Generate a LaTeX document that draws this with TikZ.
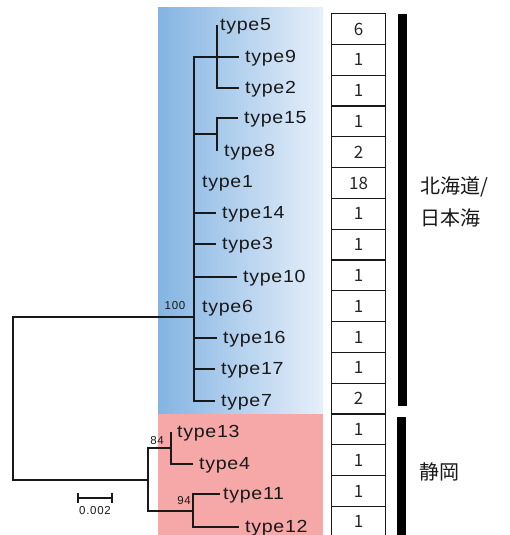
\documentclass[tikz,border=0pt]{standalone}
\usepackage{fontspec}
\setmainfont{Liberation Sans}
\newfontfamily\jpfont{Noto Sans CJK JP}
\newfontfamily\lblfont[FakeStretch=1.12,LetterSpace=4]{Liberation Sans}
\newfontfamily\smfont[LetterSpace=6]{Liberation Sans}
\definecolor{bluL}{RGB}{132,180,226}
\definecolor{bluM}{RGB}{200,222,244}
\definecolor{bluR}{RGB}{230,239,250}
\definecolor{redbg}{RGB}{246,168,168}
\definecolor{ink}{RGB}{25,25,25}
\begin{document}
\begin{tikzpicture}[x=1pt,y=-1pt,
  br/.style={line width=1.5pt, draw=ink},
  leaf/.style={anchor=west, inner xsep=6pt, inner ysep=0pt, text height=13pt, text depth=2pt,
    font=\lblfont\fontsize{17.5}{17.5}\selectfont, text=ink},
  boot/.style={font=\smfont\fontsize{11.5}{11.5}\selectfont, text=ink, inner sep=0pt},
  cnt/.style={draw=ink, line width=1.2pt, minimum width=54pt, minimum height=30.8pt, inner sep=0pt,
    font=\jpfont\fontsize{17}{17}\selectfont, text=black!85, anchor=north west},
  jp/.style={font=\jpfont\fontsize{20}{20}\selectfont, anchor=west, inner sep=0pt, text=ink},
  bar/.style={fill=black}]
\useasboundingbox (0,0) rectangle (509,535);

% backgrounds
\shade[left color=bluL, middle color=bluM, right color=bluR] (158,8) rectangle (323,414);
\fill[redbg] (158,414) rectangle (323,535);

% count boxes
\foreach \n [count=\i from 0] in {6,1,1,1,2,18,1,1,1,1,1,1,2,1,1,1,1}
  \node[cnt] (c\i) at (331,13+30.8*\i) {\n};

% group bars
\fill[bar] (398,14) rectangle (407,406);
\fill[bar] (397,417) rectangle (406,535);
\node[jp] (hk) at (420,187) {北海道/};
\node[jp] (nj) at (420,218) {日本海};
\node[jp] (sz) at (419,472) {静岡};

% internal nodes
\coordinate (root) at (13,398);
\coordinate (bN) at (194,317);
\coordinate (rN) at (148,480);
\coordinate (s1) at (217,57);
\coordinate (s2) at (217,134);
\coordinate (r1) at (171,448);
\coordinate (r2) at (193,511);

% leaves
\node[leaf, inner xsep=3pt] (t5) at (217,25) {type5};
\node[leaf] (t9) at (239,57) {type9};
\node[leaf] (t2) at (239,88) {type2};
\node[leaf] (t15) at (238,118) {type15};
\node[leaf, inner xsep=7pt] (t8) at (217,151) {type8};
\node[leaf, inner xsep=8pt] (t1) at (194,182) {type1};
\node[leaf] (t14) at (216,213) {type14};
\node[leaf] (t3) at (216,244) {type3};
\node[leaf] (t10) at (237,277) {type10};
\node[leaf, inner xsep=8pt] (t6) at (194,307) {type6};
\node[leaf] (t16) at (217,338) {type16};
\node[leaf] (t17) at (215,369) {type17};
\node[leaf] (t7) at (215,401) {type7};
\node[leaf] (t13) at (171,432) {type13};
\node[leaf] (t4) at (193,464) {type4};
\node[leaf, inner xsep=3pt] (t11) at (220,494) {type11};
\node[leaf] (t12) at (239,527) {type12};

% branches
\draw[br] (root) |- (bN);
\draw[br] (root) |- (rN);
\draw[br] (bN) |- (s1);
\draw[br] (bN) |- (s2);
\foreach \t in {t1,t14,t3,t10,t6,t16,t17,t7}
  \draw[br] (bN) |- (\t.west);
\draw[br] (s1) |- (t5.west);
\draw[br] (s1) |- (t9.west);
\draw[br] (s1) |- (t2.west);
\draw[br] (s2) |- (t15.west);
\draw[br] (s2) |- (t8.west);
\draw[br] (rN) |- (r1);
\draw[br] (rN) |- (r2);
\draw[br] (r1) |- (t13.west);
\draw[br] (r1) |- (t4.west);
\draw[br] (r2) |- (t11.west);
\draw[br] (r2) |- (t12.west);

% bootstrap values
\node[boot] (b100) at (175,306) {100};
\node[boot] (b84) at (157,441) {84};
\node[boot] (b94) at (184,501) {94};

% scale bar
\coordinate (sbL) at (78,498);
\coordinate (sbR) at (112,498);
\draw[br] (sbL) -- (sbR);
\draw[br] ([yshift=-5pt]sbL) -- ([yshift=5pt]sbL);
\draw[br] ([yshift=-5pt]sbR) -- ([yshift=5pt]sbR);
\node[boot] (sbt) at (95,511) {0.002};
\end{tikzpicture}
\end{document}
